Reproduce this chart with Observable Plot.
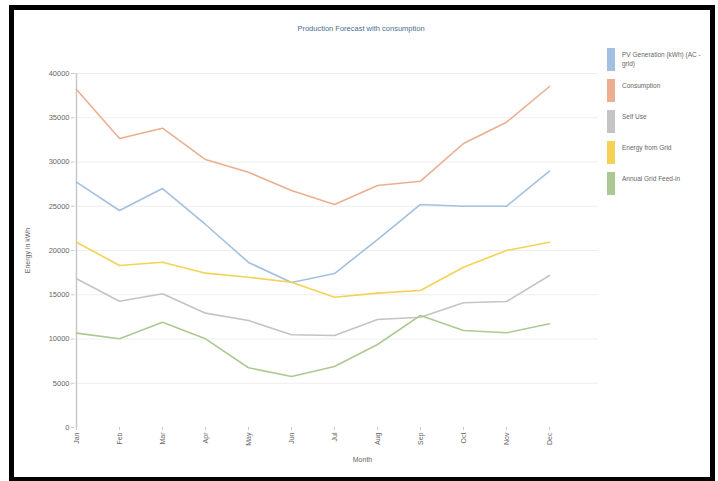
<!DOCTYPE html>
<html>
<head>
<meta charset="utf-8">
<script src="https://cdn.jsdelivr.net/npm/d3@7"></script>
<script src="https://cdn.jsdelivr.net/npm/@observablehq/plot@0.6"></script>
<style>
  html, body { margin: 0; padding: 0; background: #fff; }
  #wrap { position: relative; width: 718px; height: 481px; overflow: hidden; font-family: "Liberation Sans", Arial, sans-serif; }
  #frame { position: absolute; left: 9px; top: 5px; width: 696px; height: 467px; border: 5px solid #000; }
  #title { position: absolute; left: 0; width: 722px; top: 24px; text-align: center; font-size: 7.5px; color: #4a6f8f; }
  #chart { position: absolute; left: 0; top: 0; }
  #legend { position: absolute; left: 607px; top: 48px; width: 98px; }
  .item { position: relative; height: 31px; }
  .sw { position: absolute; left: 0; top: 0; width: 8px; height: 23px; }
  .lb { position: absolute; left: 15px; top: 2px; width: 80px; font-size: 6.5px; line-height: 9px; color: #666; }
</style>
</head>
<body>
<div id="wrap">
  <div id="frame"></div>
  <div id="title">Production Forecast with consumption</div>
  <div id="chart"></div>
  <div id="legend"></div>
</div>
<script>
const months = ["Jan","Feb","Mar","Apr","May","Jun","Jul","Aug","Sep","Oct","Nov","Dec"];
const seriesNames = ["PV Generation (kWh) (AC - grid)", "Consumption", "Self Use", "Energy from Grid", "Annual Grid Feed-in"];
const seriesColors = ["#a3c0e0", "#ecae90", "#c4c4c4", "#f4d255", "#adc993"];
const pvGeneration = [27720, 24520, 27000, 22940, 18650, 16390, 17400, 21240, 25200, 25000, 25000, 28960];
const consumption  = [38190, 32660, 33820, 30280, 28850, 26780, 25200, 27350, 27830, 32090, 34500, 38530];
const selfUse      = [16800, 14270, 15110, 12920, 12090, 10480, 10400, 12200, 12460, 14090, 14240, 17180];
const fromGrid     = [20940, 18310, 18680, 17440, 16980, 16420, 14720, 15180, 15480, 18110, 20000, 20940];
const feedIn       = [10660, 10020, 11900, 10020, 6750, 5760, 6890, 9380, 12660, 10960, 10700, 11720];
const yTicks = [0, 5000, 10000, 15000, 20000, 25000, 30000, 35000, 40000];

const allSeries = [pvGeneration, consumption, selfUse, fromGrid, feedIn];
const data = [];
allSeries.forEach((vals, i) => vals.forEach((v, j) => data.push({series: seriesNames[i], month: months[j], value: v})));

const chart = Plot.plot({
  width: 718,
  height: 481,
  marginTop: 73,
  marginBottom: 54,
  marginLeft: 74,
  marginRight: 120,
  style: {fontFamily: "Liberation Sans, Arial, sans-serif", fontSize: "7px", color: "#666", background: "transparent"},
  x: {type: "point", domain: months, padding: 0, insetLeft: 1, insetRight: 49, label: null},
  y: {domain: [0, 40000], label: null},
  color: {domain: seriesNames, range: seriesColors},
  marks: [
    Plot.ruleY(yTicks.slice(1), {stroke: "#eeeeee", strokeWidth: 1}),
    Plot.ruleY([0], {x1: months[0], x2: months[11], stroke: "#c8c8c8", strokeWidth: 1.5}),
    Plot.ruleX([months[0]], {y1: 0, y2: 40000, stroke: "#c8c8c8", strokeWidth: 1.5}),
    Plot.axisY({ticks: yTicks, tickFormat: d => String(d), tickSize: 3, tickPadding: 2, stroke: "#c8c8c8", label: null, fontSize: 7.5}),
    Plot.axisX({tickRotate: -90, tickSize: 3, tickPadding: 2, stroke: "#c8c8c8", label: null, fontSize: 7}),
    Plot.line(data, {x: "month", y: "value", z: "series", stroke: "series", strokeWidth: 1.6, curve: "linear"}),
    Plot.text(["Energy in kWh"], {frameAnchor: "left", textAnchor: "middle", dx: -47, rotate: -90, fontSize: 7, fill: "#666"}),
    Plot.text(["Month"], {frameAnchor: "bottom", dx: 26, dy: 34, fontSize: 7, fill: "#666"})
  ]
});
document.getElementById("chart").appendChild(chart);

const legend = document.getElementById("legend");
seriesNames.forEach((n, i) => {
  const it = document.createElement("div");
  it.className = "item";
  it.innerHTML = `<div class="sw" style="background:${seriesColors[i]}"></div><div class="lb">${n}</div>`;
  legend.appendChild(it);
});
</script>
</body>
</html>
